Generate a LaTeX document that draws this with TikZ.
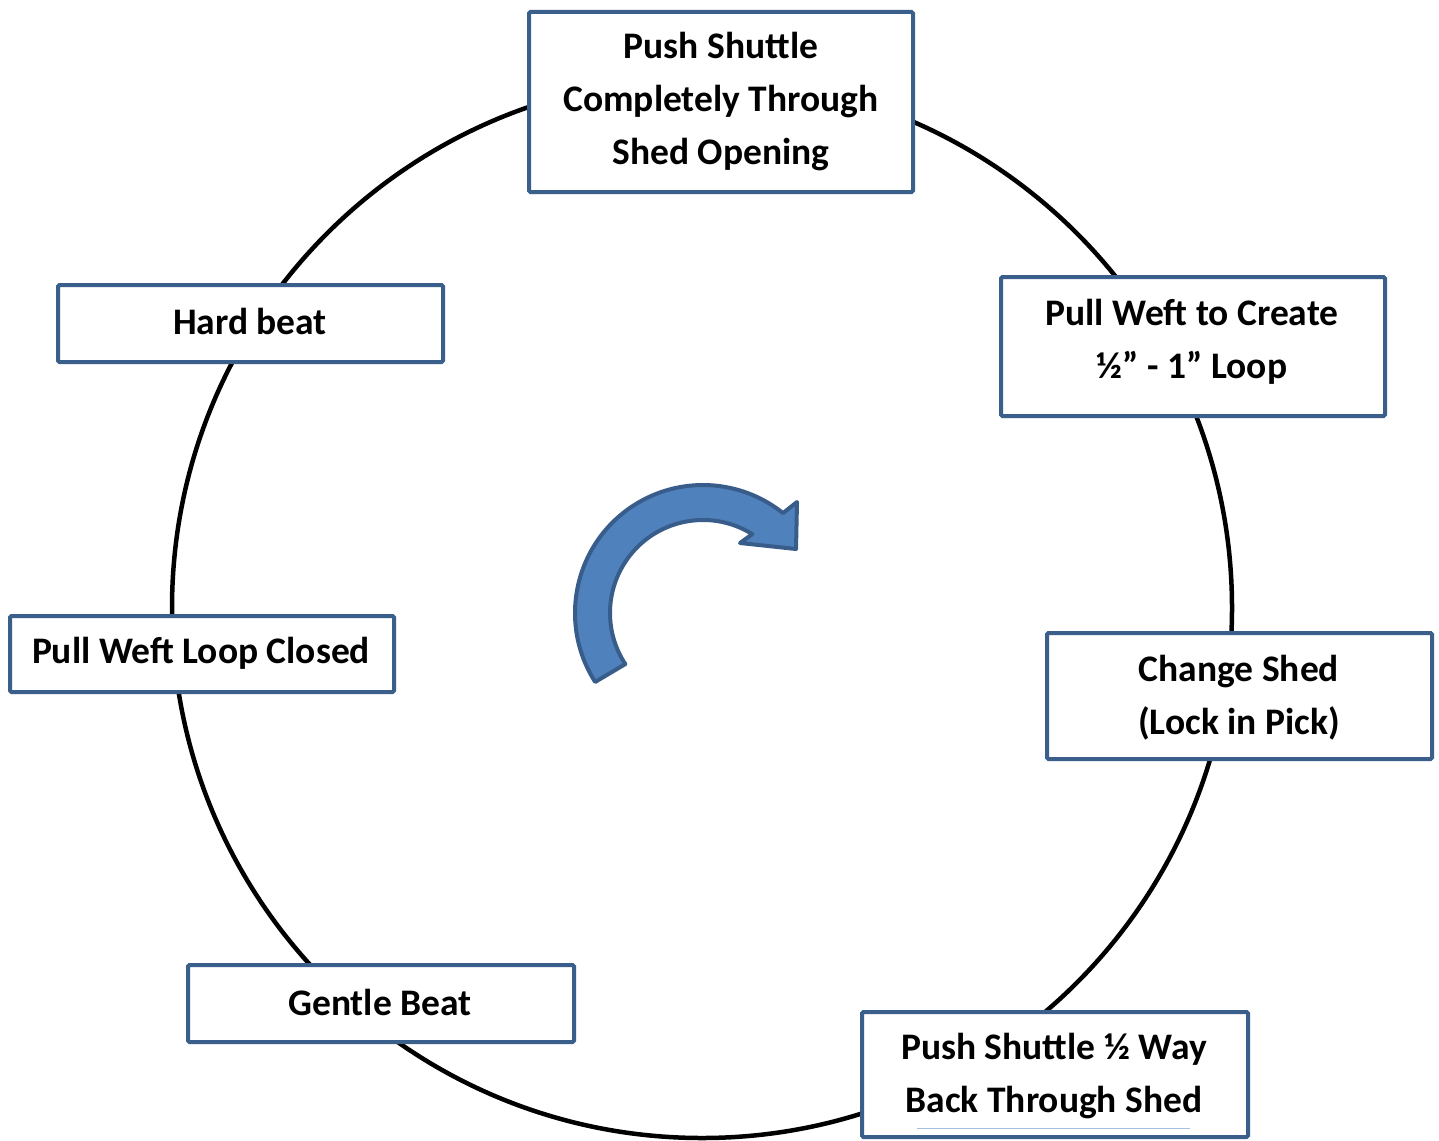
\documentclass[tikz,border=0pt]{standalone}
\usepackage{fontspec}
\setmainfont{Carlito}
\usetikzlibrary{calc}
\definecolor{boxblue}{HTML}{3A5F8B}
\definecolor{arrowfill}{HTML}{4F81BD}
\definecolor{arrowdraw}{HTML}{385D8A}
\definecolor{faintline}{HTML}{A7BEDC}
\begin{document}
\begin{tikzpicture}[x=1pt,y=1pt,
  box/.style={draw=boxblue, line width=4pt, fill=white, rounded corners=1.5pt, inner sep=0pt},
  lbl/.style={font=\bfseries\fontsize{37.5}{53}\selectfont, align=center, inner sep=0pt},
  ringstyle/.style={circle, draw=black, line width=4.5pt, inner sep=0pt},
  cyclearrow/.style={fill=arrowfill, draw=arrowdraw, line width=4pt, line join=round}]
\useasboundingbox (0,0) rectangle (1439,-1140);
\fill[white] (0,0) rectangle (1439,-1140);
% ring
\node[ringstyle, minimum size=1060pt] (ring) at (702,-608) {};
% boxes
\node[box, minimum width=384pt, minimum height=180pt] (b1) at (721,-102) {};
\node[box, minimum width=384pt, minimum height=139pt] (b2) at (1193,-346.5) {};
\node[box, minimum width=385pt, minimum height=126pt] (b3) at (1239.5,-696) {};
\node[box, minimum width=386pt, minimum height=125pt] (b4) at (1055,-1074.5) {};
\node[box, minimum width=386pt, minimum height=77pt] (b5) at (381,-1003.5) {};
\node[box, minimum width=384pt, minimum height=76pt] (b6) at (202,-654) {};
\node[box, minimum width=385pt, minimum height=77pt] (b7) at (250.5,-323.5) {};
% texts
\node[lbl] (t1) at (721,-102) {Push Shuttle\\Completely Through\\Shed Opening};
\node[lbl] (t2) at (1192,-342) {Pull Weft to Create\\½” - 1” Loop};
\node[lbl] (t3) at (1239,-697.5) {Change Shed\\(Lock in Pick)};
\node[lbl] (t4) at (1054,-1076) {Push Shuttle ½ Way\\Back Through Shed};
\node[lbl] (t5) at (380,-1002) {Gentle Beat};
\node[lbl] (t6) at (201,-653) {Pull Weft Loop Closed};
\node[lbl] (t7) at (250,-321) {Hard beat};
% faint line in bottom box
\coordinate (fl1) at (917,-1128);
\coordinate (fl2) at (1190,-1128);
\draw[faintline, line width=1pt] (fl1) -- (fl2);
% curved arrow
\coordinate (ac) at (703,-613);
\draw[cyclearrow] ($(ac)+(212.6:128)$) arc[start angle=212.6, end angle=51.3, radius=128]
  -- (797,-502) -- (796,-549) -- (740,-543) -- ($(ac)+(58:93)$)
  arc[start angle=58, end angle=213.3, radius=93] -- cycle;
\end{tikzpicture}
\end{document}
